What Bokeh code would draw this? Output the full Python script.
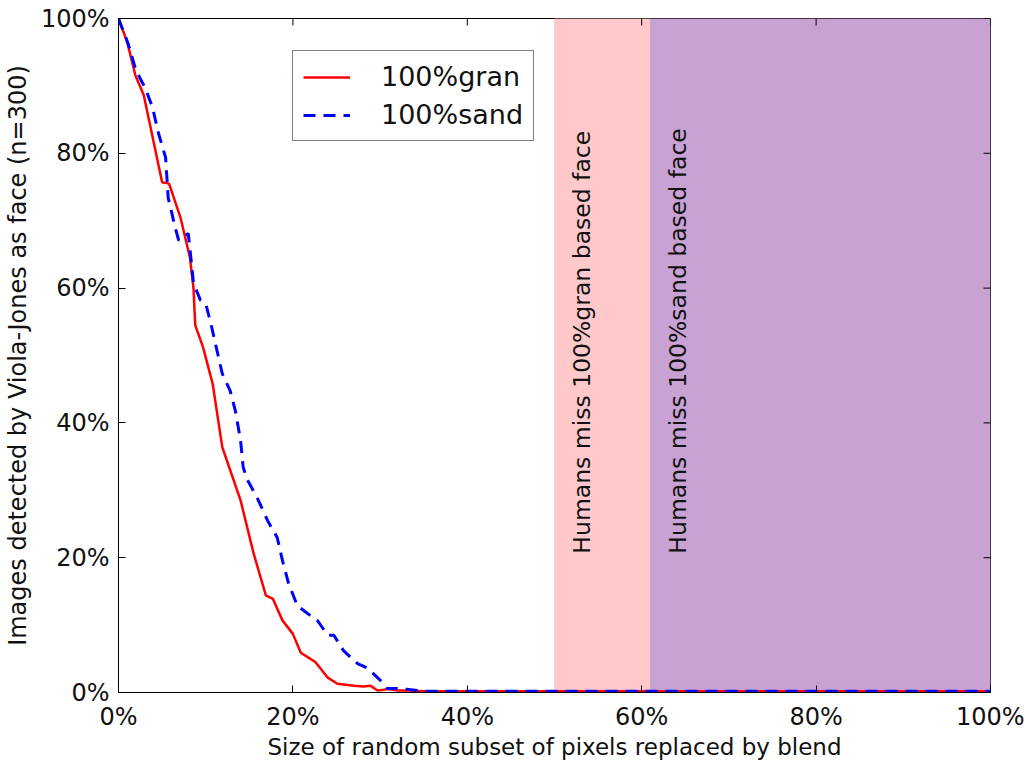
import math
from bokeh.plotting import figure
from bokeh.models import (BoxAnnotation, FixedTicker, PrintfTickFormatter,
                          Range1d, Legend, LegendItem, ColumnDataSource)
from bokeh.core.properties import value
from bokeh.embed import file_html
from bokeh.resources import INLINE

# ---- data (percent units) ----
gran_x = [0, 1.0, 1.95, 2.9, 5.0, 5.8, 7.1, 8.2, 8.6, 8.8, 9.7, 10.8, 11.9, 13.1, 14.0, 15.5,
          16.9, 17.7, 18.8, 20.0, 20.9, 22.6, 24.0, 25.1, 27.0, 28.1, 28.9, 29.7, 31.0, 32.0,
          33.0, 35.0, 40, 50, 60, 70, 80, 90, 100]
gran_y = [100, 96.5, 91.5, 88.6, 75.7, 75.5, 70.5, 64.5, 60.0, 54.5, 51.2, 45.8, 36.4, 31.9, 28.5,
          20.6, 14.4, 13.9, 10.7, 8.7, 5.9, 4.5, 2.2, 1.3, 1.0, 0.9, 1.0, 0.3, 0.5, 0.3,
          0.3, 0.2, 0.2, 0.2, 0.2, 0.2, 0.2, 0.2, 0.2]

sand_x = [0, 1.1, 2.0, 3.1, 3.9, 4.6, 5.4, 5.7, 6.5, 6.9, 8.0, 8.3, 8.6, 9.4, 10.0, 10.6, 11.3,
          11.9, 12.8, 13.4, 14.0, 14.3, 14.8, 15.9, 17.1, 18.2, 18.8, 19.5, 20.5, 21.7, 22.8,
          24.0, 24.7, 25.8, 27.4, 28.6, 29.7, 30.3, 30.8, 32.0, 33.0, 35.0, 40, 100]
sand_y = [100, 96.3, 92.3, 89.6, 86.8, 82.9, 79.4, 73.4, 69.0, 67.1, 68.1, 64.5, 60.7, 58.2, 57.7,
          54.7, 50.7, 47.3, 44.8, 41.8, 37.4, 33.4, 31.5, 28.9, 25.5, 23.0, 19.6, 16.2, 12.9,
          11.7, 10.7, 8.5, 8.5, 6.2, 4.3, 3.6, 2.2, 1.5, 0.6, 0.6, 0.5, 0.2, 0.2, 0.2]

band_gran = (50, 61)
band_sand = (61, 100)
band_labels = ["Humans miss 100%gran based face", "Humans miss 100%sand based face"]
band_label_x = [53.1, 64.2]
band_label_y = [20.6, 20.6]

ticks = [0, 20, 40, 60, 80, 100]
FONT = "DejaVu Sans"

p = figure(width=1024, height=763, output_backend="svg", toolbar_location=None,
           x_range=Range1d(0, 100), y_range=Range1d(0, 100),
           min_border_left=118, min_border_right=34, min_border_top=18, min_border_bottom=71)
p.xgrid.visible = False
p.ygrid.visible = False
p.outline_line_color = "black"
p.outline_line_width = 1

# bands
p.add_layout(BoxAnnotation(left=band_gran[0], right=band_gran[1], fill_color="#ffc9cb",
                           fill_alpha=1.0, line_color="#e8a8aa", line_width=1, level="underlay"))
p.add_layout(BoxAnnotation(left=band_sand[0], right=band_sand[1], fill_color="#c9a2d4",
                           fill_alpha=1.0, line_color="#9a8a9e", line_width=1, level="underlay"))

src = ColumnDataSource(dict(x=band_label_x, y=band_label_y, t=band_labels))
p.text(x="x", y="y", text="t", source=src, angle=math.pi / 2, text_align="left",
       text_baseline="middle", text_font=value(FONT), text_font_size="23.5px",
       text_color="#111111")

r1 = p.line(gran_x, gran_y, line_color="red", line_width=2.5)
r2 = p.line(sand_x, sand_y, line_color="blue", line_width=3, line_dash="12 8")

# inward ticks on the top and right frame edges
top_y = [100] * len(ticks)
right_x = [100] * len(ticks)
p.ray(x=ticks, y=top_y, length=7, length_units="screen", angle=-math.pi / 2,
      line_color="black", line_width=1)
p.ray(x=right_x, y=ticks, length=7, length_units="screen", angle=math.pi,
      line_color="black", line_width=1)

legend = Legend(items=[LegendItem(label="100%gran", renderers=[r1]),
                       LegendItem(label="100%sand", renderers=[r2])],
                location=(174, 551), border_line_color="black", border_line_width=1,
                background_fill_color="white", background_fill_alpha=1.0,
                label_text_font=FONT, label_text_font_size="27px", label_text_color="#111111",
                glyph_width=47, glyph_height=28, label_height=28, label_standoff=31,
                padding=10, spacing=7, margin=0)
p.add_layout(legend, "center")

for ax in (p.xaxis[0], p.yaxis[0]):
    ax.ticker = FixedTicker(ticks=ticks)
    ax.formatter = PrintfTickFormatter(format="%d%%")
    ax.major_tick_in = 7
    ax.major_tick_out = 0
    ax.minor_tick_line_color = None
    ax.axis_line_color = "black"
    ax.major_tick_line_color = "black"
    ax.major_label_text_font = FONT
    ax.major_label_text_color = "#111111"
    ax.major_label_text_font_size = "24px"
    ax.axis_label_text_font = FONT
    ax.axis_label_text_font_style = "normal"
    ax.axis_label_text_color = "#111111"

p.xaxis[0].axis_label = "Size of random subset of pixels replaced by blend"
p.xaxis[0].axis_label_text_font_size = "23px"
p.xaxis[0].axis_label_standoff = 0
p.xaxis[0].major_label_standoff = 10
p.yaxis[0].axis_label = "Images detected by Viola-Jones as face (n=300)"
p.yaxis[0].axis_label_text_font_size = "24px"
p.yaxis[0].axis_label_standoff = 6
p.yaxis[0].major_label_standoff = 9

open("out.html", "w").write(file_html(p, INLINE))
